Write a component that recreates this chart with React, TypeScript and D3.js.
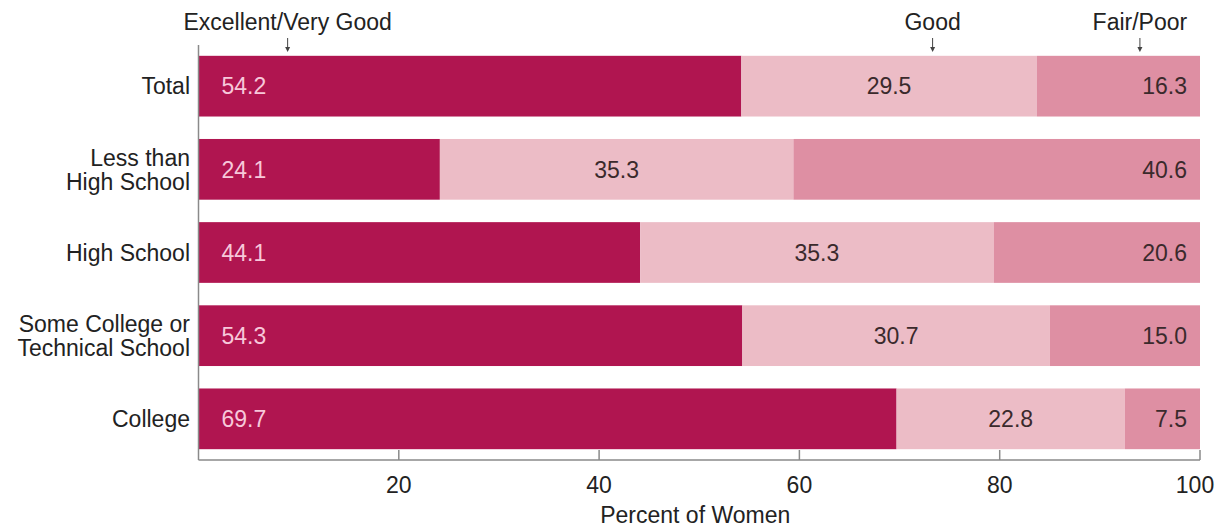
import React from "react";
import * as d3 from "d3";

const categories = [
  ["Total"],
  ["Less than", "High School"],
  ["High School"],
  ["Some College or", "Technical School"],
  ["College"],
];
const excellent = [54.2, 24.1, 44.1, 54.3, 69.7];
const good = [29.5, 35.3, 35.3, 30.7, 22.8];
const fairPoor = [16.3, 40.6, 20.6, 15.0, 7.5];
const seriesNames = ["Excellent/Very Good", "Good", "Fair/Poor"];
const seriesPointers = [8.9, 73.3, 94];
const xTicks = [20, 40, 60, 80, 100];

const colors = ["#b01550", "#ecbcc6", "#de8fa3"];
const font = "'Liberation Sans', Arial, Helvetica, sans-serif";
const fs = 23;

const W = 1215;
const H = 531;

const App = () => {
  const x = d3.scaleLinear().domain([0, 100]).range([198.5, 1200]);
  const y = d3
    .scaleBand<number>()
    .domain(categories.map((_, i) => i))
    .range([45, 460])
    .paddingInner(0.27)
    .paddingOuter(0.13);
  const bw = y.bandwidth();
  const axisY = 460;

  const rows = categories.map((c, i) => {
    const vals = [excellent[i], good[i], fairPoor[i]];
    let acc = 0;
    const segs = vals.map((v, k) => {
      const s = { x0: acc, x1: acc + v, v, k };
      acc += v;
      return s;
    });
    return { c, i, segs };
  });

  return (
    <svg width={W} height={H} style={{ display: "block", position: "absolute", left: 0, top: 0 }}>
      <rect width={W} height={H} fill="#fff" />
      {rows.map((r) => {
        const top = y(r.i) ?? 0;
        const cy = top + bw / 2;
        return (
          <g key={r.i}>
            {r.segs.map((s) => (
              <rect
                key={s.k}
                x={x(s.x0)}
                y={top}
                width={Math.min(x(s.x1), x(100)) - x(s.x0)}
                height={bw}
                fill={colors[s.k]}
              />
            ))}
            {r.segs.map((s) => {
              const tx = s.k === 0 ? x(s.x0) + 23 : s.k === 1 ? (x(s.x0) + x(s.x1)) / 2 : x(100) - 13;
              const anchor = s.k === 0 ? "start" : s.k === 1 ? "middle" : "end";
              return (
                <text
                  key={"t" + s.k}
                  x={tx}
                  y={cy}
                  dy="0.36em"
                  textAnchor={anchor}
                  fontFamily={font}
                  fontSize={fs}
                  fill={s.k === 0 ? "#f7c8da" : "#3a2a2c"}
                >
                  {s.v.toFixed(1)}
                </text>
              );
            })}
            <text
              x={190}
              y={cy - ((r.c.length - 1) * 24) / 2}
              textAnchor="end"
              fontFamily={font}
              fontSize={fs}
              fill="#222"
            >
              {r.c.map((line, j) => (
                <tspan key={j} x={190} dy={j === 0 ? "0.36em" : 24}>
                  {line}
                </tspan>
              ))}
            </text>
          </g>
        );
      })}
      {/* axes */}
      <line x1={x(0)} x2={x(0)} y1={45} y2={axisY} stroke="#8a8a8a" strokeWidth={1.5} />
      <line x1={x(0)} x2={x(100)} y1={axisY} y2={axisY} stroke="#8a8a8a" strokeWidth={1.5} />
      {xTicks.map((t) => (
        <g key={t}>
          <line x1={x(t)} x2={x(t)} y1={axisY} y2={axisY - 10} stroke="#8a8a8a" strokeWidth={1.5} />
          <text
            x={Math.min(x(t), W - 20)}
            y={485}
            dy="0.36em"
            textAnchor="middle"
            fontFamily={font}
            fontSize={fs}
            fill="#222"
          >
            {t}
          </text>
        </g>
      ))}
      <text x={x(49.6)} y={515} dy="0.36em" textAnchor="middle" fontFamily={font} fontSize={fs} fill="#222">
        Percent of Women
      </text>
      {/* series headers with pointers */}
      {seriesNames.map((n, k) => {
        const px = x(seriesPointers[k]);
        return (
          <g key={n}>
            <text x={px} y={22} dy="0.36em" textAnchor="middle" fontFamily={font} fontSize={fs} fill="#222">
              {n}
            </text>
            <line x1={px} x2={px} y1={38} y2={50} stroke="#444" strokeWidth={1} />
            <path d={`M${px - 2.5},47 L${px + 2.5},47 L${px},52 Z`} fill="#444" />
          </g>
        );
      })}
    </svg>
  );
};

export default App;
